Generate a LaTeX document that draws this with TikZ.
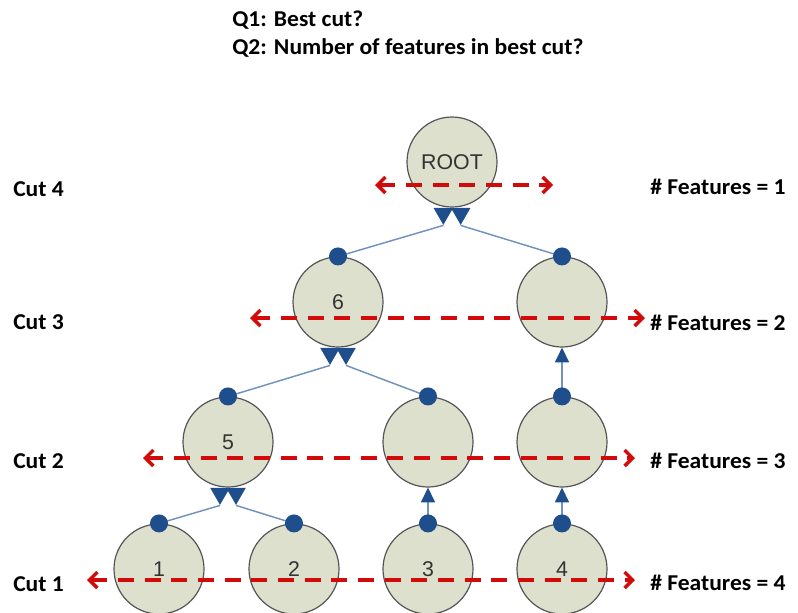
\documentclass[tikz,border=0pt]{standalone}
\usepackage{fontspec}
\setmainfont{Carlito}[FakeStretch=1.04]
\newfontfamily\nodefont{Liberation Sans}
\usetikzlibrary{arrows.meta,shapes.geometric}
\definecolor{nodefill}{RGB}{221,224,204}
\definecolor{nodeline}{RGB}{85,85,85}
\definecolor{linkblue}{RGB}{115,145,190}
\definecolor{tipblue}{RGB}{31,78,140}
\definecolor{cutred}{RGB}{210,10,10}
\tikzset{
  feature/.style={circle, draw=nodeline, line width=0.9pt, fill=nodefill, minimum size=67.5pt, inner sep=0pt, font=\nodefont\fontsize{16}{18}\selectfont, text=black!80},
  link/.style={draw=linkblue, line width=1.1pt},
  uplink/.style={link, -{Triangle[color=tipblue, length=11pt, width=10.5pt]}},
  vee/.style={regular polygon, regular polygon sides=3, shape border rotate=180, fill=tipblue, minimum size=17pt, inner sep=0pt, anchor=north},
  knob/.style={circle, fill=tipblue, minimum size=13.5pt, inner sep=0pt},
  cutline/.style={draw=cutred, line width=2.6pt, dash pattern=on 12pt off 8pt, {Straight Barb[length=6pt,width=12pt]}-{Straight Barb[length=6pt,width=12pt]}},
  cutlabel/.style={font=\bfseries\fontsize{17}{20}\selectfont, anchor=base west, inner sep=0pt}
}
\begin{document}
\begin{tikzpicture}[x=0.75pt, y=-0.75pt]
            \useasboundingbox (0,0) rectangle (798,612);
            % questions
            \node[cutlabel] (q1) at (232,26) {Q1: Best cut?};
            \node[cutlabel] (q2) at (232,54) {Q2: Number of features in best cut?};
            % feature nodes
            \node[feature] (root) at (452,162) {ROOT};
            \node[feature] (n6) at (338,302) {6};
            \node[feature] (r3) at (562,302) {};
            \node[feature] (n5) at (228,442) {5};
            \node[feature] (m2) at (428,442) {};
            \node[feature] (r2) at (562,442) {};
            \node[feature] (n1) at (159,569) {1};
            \node[feature] (n2) at (294,569) {2};
            \node[feature] (n3) at (428,569) {3};
            \node[feature] (n4) at (562,569) {4};
            % merge tips
            \node[vee] (rootL) at ([xshift=-6.5pt]root.south) {};
            \node[vee] (rootR) at ([xshift=6.5pt]root.south) {};
            \node[vee] (sixL) at ([xshift=-6pt]n6.south) {};
            \node[vee] (sixR) at ([xshift=6pt]n6.south) {};
            \node[vee] (fiveL) at ([xshift=-6pt]n5.south) {};
            \node[vee] (fiveR) at ([xshift=6pt]n5.south) {};
            % links
            \draw[link] (n1.north) -- (fiveL.corner 1);
            \draw[link] (n2.north) -- (fiveR.corner 1);
            \draw[link] (n5.north) -- (sixL.corner 1);
            \draw[link] (m2.north) -- (sixR.corner 1);
            \draw[link] (n6.north) -- (rootL.corner 1);
            \draw[link] (r3.north) -- (rootR.corner 1);
            \draw[uplink] (n3.north) -- (m2.south);
            \draw[uplink] (n4.north) -- (r2.south);
            \draw[uplink] (r2.north) -- (r3.south);
            % knobs
            \foreach \n in {n1,n2,n3,n4,n5,m2,r2,n6,r3}
                \node[knob] (k\n) at (\n.north) {};
            % cuts
            \coordinate (c4w) at (375,185); \coordinate (c4e) at (553,185);
            \coordinate (c3w) at (250,318); \coordinate (c3e) at (645,318);
            \coordinate (c2w) at (143,458); \coordinate (c2e) at (635,458);
            \coordinate (c1w) at (87,580);  \coordinate (c1e) at (635,580);
            \draw[cutline] (c4w) -- (c4e);
            \draw[cutline] (c3w) -- (c3e);
            \draw[cutline] (c2w) -- (c2e);
            \draw[cutline] (c1w) -- (c1e);
            \node[cutlabel] (cut4) at (13,196) {Cut 4};
            \node[cutlabel] (cut3) at (13,329) {Cut 3};
            \node[cutlabel] (cut2) at (13,468) {Cut 2};
            \node[cutlabel] (cut1) at (13,591) {Cut 1};
            \node[cutlabel] (feat4) at (650,194) {\# Features = 1};
            \node[cutlabel] (feat3) at (650,330) {\# Features = 2};
            \node[cutlabel] (feat2) at (650,468) {\# Features = 3};
            \node[cutlabel] (feat1) at (650,590) {\# Features = 4};
        \end{tikzpicture}
\end{document}
